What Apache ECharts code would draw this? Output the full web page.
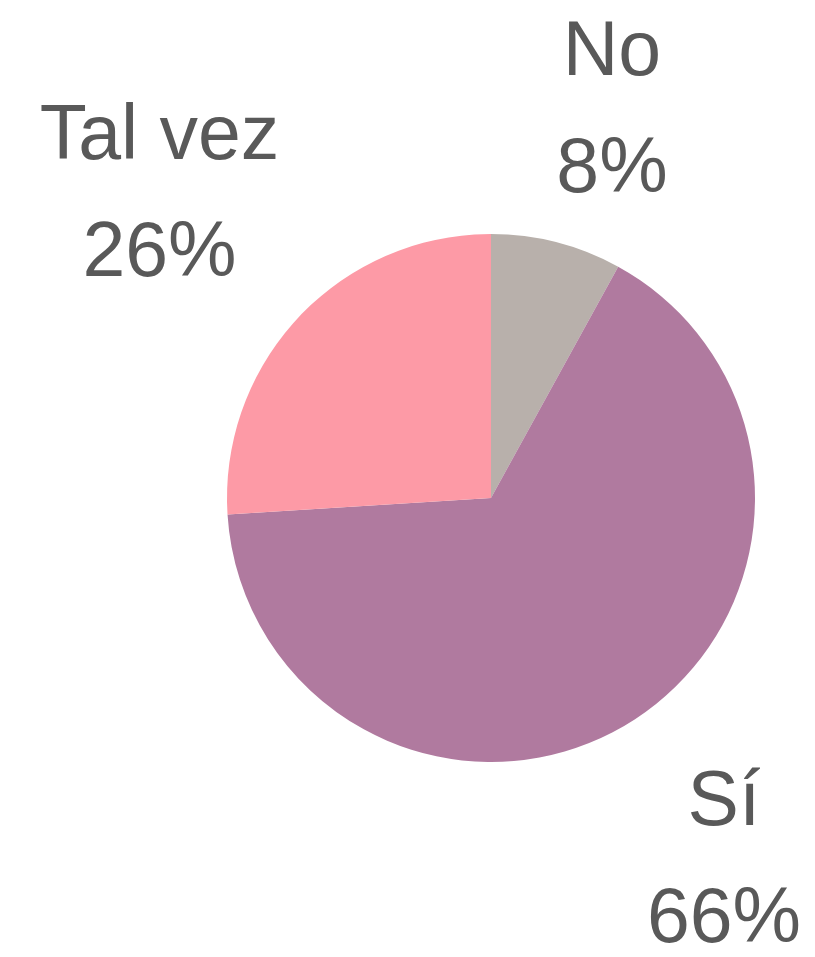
<!DOCTYPE html>
<html>
<head>
<meta charset="utf-8">
<title>Respuestas</title>
<script src="https://cdn.jsdelivr.net/npm/echarts@6/dist/echarts.min.js"></script>
<style>
  html, body { margin: 0; padding: 0; background: #ffffff; }
  #chart { width: 815px; height: 957px; }
</style>
</head>
<body>
<div id="chart"></div>
<script>
// Survey answers and their shares (percent)
const categories = ['No', 'Sí', 'Tal vez'];
const values = [8, 66, 26];
const colors = ['#b8b0ab', '#b07a9f', '#fd9aa6'];

// Outside-label leader geometry per slice (line itself is hidden)
const leaderLength = [134, 167, 177];
const leaderLength2 = [22, 2, 10];

const chart = echarts.init(document.getElementById('chart'), null, { renderer: 'canvas' });

chart.setOption({
  animation: false,
  backgroundColor: '#ffffff',
  series: [{
    type: 'pie',
    center: [491, 498],
    radius: 264,
    startAngle: 90,
    clockwise: true,
    avoidLabelOverlap: false,
    percentPrecision: 0,
    emphasis: { disabled: true },
    label: {
      show: true,
      position: 'outside',
      formatter: '{b}\n{d}%',
      fontFamily: '"Liberation Sans", Arial, sans-serif',
      fontSize: 77,
      lineHeight: 117,
      color: '#595959',
      distanceToLabelLine: 0
    },
    labelLine: { show: false },
    labelLayout: function () {
      return { align: 'center', verticalAlign: 'middle' };
    },
    itemStyle: { borderWidth: 0 },
    data: categories.map(function (name, i) {
      return {
        name: name,
        value: values[i],
        itemStyle: { color: colors[i] },
        labelLine: { show: false, length: leaderLength[i], length2: leaderLength2[i] }
      };
    })
  }]
});
</script>
</body>
</html>
